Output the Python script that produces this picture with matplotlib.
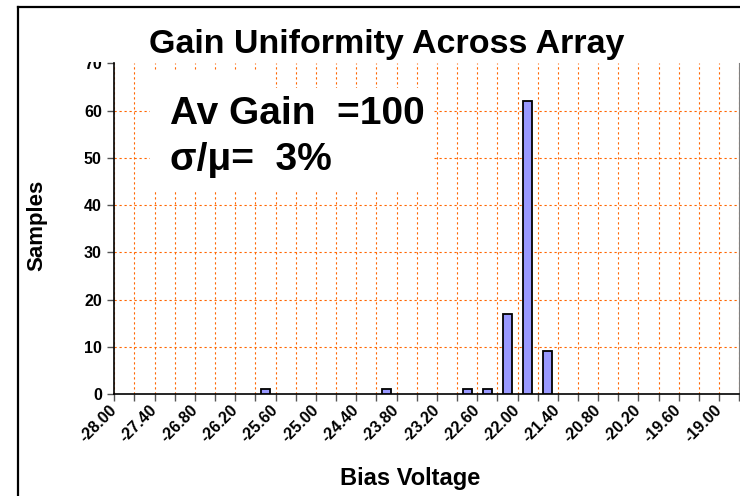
import matplotlib
matplotlib.use("Agg")
import matplotlib.pyplot as plt
from matplotlib.patches import Rectangle
from matplotlib.lines import Line2D

plt.rcParams['font.family'] = ['Liberation Sans', 'DejaVu Sans']

# histogram of bias voltage per pixel (bins 0.3 V wide, given by left edge)
bin_width = 0.3
bin_start = [-25.9, -24.1, -22.9, -22.6, -22.3, -22.0, -21.7]
samples = [1, 1, 1, 1, 17, 62, 9]

tick_labels = ["-28.00", "-27.40", "-26.80", "-26.20", "-25.60", "-25.00",
               "-24.40", "-23.80", "-23.20", "-22.60", "-22.00", "-21.40",
               "-20.80", "-20.20", "-19.60", "-19.00"]
x_min, x_max = -28.0, -18.7

W, H = 740, 496


def fx(px):
    return px / W


def fy(py):
    return 1 - py / H


fig = plt.figure(figsize=(W / 100, H / 100), dpi=100)
ax = fig.add_axes([fx(114.3), fy(394), fx(739.3) - fx(114.3), fy(63.4) - fy(394)])

grid_c = '#FF6600'
dash = (0, (2, 2.5))

centers = [s + bin_width / 2 for s in bin_start]
ax.bar(centers, samples, width=bin_width * 0.45, color='#9999FF',
       edgecolor='black', linewidth=1.3, zorder=3)

ax.set_xlim(x_min, x_max)
ax.set_ylim(0, 70)

label_pos = [float(t) for t in tick_labels]
ax.set_xticks(label_pos)
ax.set_xticklabels(tick_labels, rotation=45, ha='right', va='center',
                   rotation_mode='anchor', fontsize=11.5, fontweight='bold')
ax.set_xticks([p + bin_width for p in label_pos], minor=True)
ax.tick_params(axis='x', which='both', length=5, width=1, color='#555555',
               direction='out', pad=5)

ax.set_yticks(range(0, 80, 10))
ax.set_yticklabels([str(v) for v in range(0, 80, 10)], fontsize=11.5, fontweight='bold')
ax.tick_params(axis='y', length=5, width=1, color='#555555', direction='out', pad=4)

ax.grid(which='both', axis='x', color=grid_c, linestyle=dash, linewidth=0.8, zorder=1)
ax.grid(which='major', axis='y', color=grid_c, linestyle=dash, linewidth=0.8, zorder=1)
ygl = ax.get_ygridlines()
ygl[0].set_visible(False)
ygl[-1].set_visible(False)
ax.set_axisbelow(True)

ax.spines['top'].set_visible(False)
ax.spines['right'].set_color('#808080')
ax.spines['left'].set_linewidth(1.2)
ax.spines['bottom'].set_linewidth(1.2)

fig.text(fx(37), fy(225), "Samples", rotation=90, ha='center', va='center',
         fontsize=16, fontweight='bold')
fig.text(fx(410), fy(479), "Bias Voltage", ha='center', va='center',
         fontsize=17, fontweight='bold')

# white boxes from the slide that sit over the chart
fig.add_artist(Rectangle((fx(60), fy(62)), fx(700) - fx(60), fy(17) - fy(62),
                         transform=fig.transFigure, facecolor='white',
                         edgecolor='none', zorder=2))
fig.add_artist(Rectangle((fx(150), fy(190)), fx(432) - fx(150), fy(88) - fy(190),
                         transform=fig.transFigure, facecolor='white',
                         edgecolor='none', zorder=2))
fig.add_artist(Rectangle((fx(145), fy(88)), fx(275) - fx(145), fy(70) - fy(88),
                         transform=fig.transFigure, facecolor='white',
                         edgecolor='none', zorder=2))

t = fig.text(fx(387), fy(53), "Gain Uniformity Across Array", ha='center',
             va='baseline', fontsize=24.5, fontweight='bold')
t.set_zorder(3)
t = fig.text(fx(170), fy(124), "Av Gain  =100", ha='left', va='baseline',
             fontsize=28, fontweight='bold')
t.set_zorder(3)
t = fig.text(fx(170), fy(170), "σ/μ=  3%", ha='left', va='baseline',
             fontsize=28, fontweight='bold')
t.set_zorder(3)

# slide frame
fig.add_artist(Line2D([fx(18), fx(18)], [0, fy(7)], color='black', lw=1.6, zorder=5))
fig.add_artist(Line2D([fx(18), 1], [fy(7), fy(7)], color='black', lw=1.6, zorder=5))

fig.savefig("out.png", dpi=100)
